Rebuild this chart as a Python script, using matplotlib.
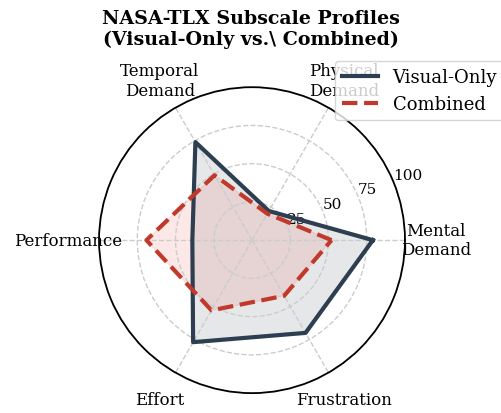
import numpy as np
import matplotlib.pyplot as plt

plt.rcParams['font.family'] = 'DejaVu Serif'

categories = ['Mental\nDemand', 'Physical\nDemand', 'Temporal\nDemand',
              'Performance', 'Effort', 'Frustration']
visual_only = [79, 22, 74, 39, 77, 70]
combined = [52, 20, 49, 69, 53, 42]
r_ticks = [25, 50, 75, 100]

n = len(categories)
angles = np.linspace(0, 2 * np.pi, n, endpoint=False).tolist()
angles_closed = angles + angles[:1]

fig = plt.figure(figsize=(5.02, 4.14), dpi=100)
ax = fig.add_axes([0.197, 0.048, 0.610, 0.739], projection='polar')

v = visual_only + visual_only[:1]
c = combined + combined[:1]

ax.plot(angles_closed, v, color='#2c3e50', linewidth=3, label='Visual-Only')
ax.fill(angles_closed, v, color='#2c3e50', alpha=0.12)
ax.plot(angles_closed, c, color='#c0392b', linewidth=3, linestyle='--',
        label='Combined')
ax.fill(angles_closed, c, color='#e74c3c', alpha=0.12)

ax.set_ylim(0, 100)
ax.set_yticks(r_ticks)
ax.set_yticklabels([str(t) for t in r_ticks], fontsize=11)
ax.set_rlabel_position(22.5)
ax.set_xticks(angles)
ax.set_xticklabels(categories, fontsize=12)
ax.tick_params(axis='x', pad=12)

ax.grid(color='#cccccc', linestyle='--', linewidth=1)
ax.spines['polar'].set_color('black')
ax.spines['polar'].set_linewidth(1.3)

ax.legend(loc='upper right', bbox_to_anchor=(1.354, 1.115), fontsize=13,
          framealpha=0.8)

fig.suptitle('NASA-TLX Subscale Profiles\n(Visual-Only vs.\\ Combined)',
             fontsize=13.7, fontweight='bold', y=0.975)

fig.savefig('out.png', dpi=100)
